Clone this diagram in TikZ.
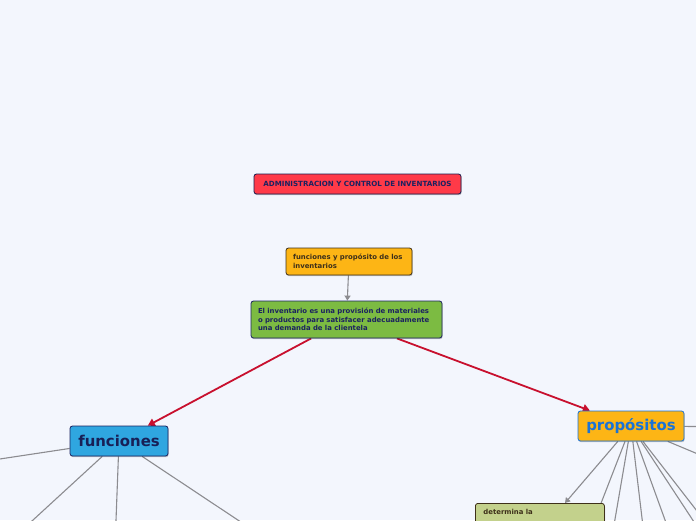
\documentclass[tikz,border=0pt]{standalone}
\usepackage{fontspec}
\setmainfont{DejaVu Sans}
\usetikzlibrary{arrows.meta,shadows,backgrounds}

\definecolor{fondo}{HTML}{F3F6FD}
\definecolor{rojotit}{HTML}{FF3A48}
\definecolor{marino}{HTML}{1B2260}
\definecolor{naranja}{HTML}{FDB515}
\definecolor{verde}{HTML}{7CBB42}
\definecolor{azul}{HTML}{2FA6E0}
\definecolor{azultxt}{HTML}{1A73D6}
\definecolor{oliva}{HTML}{C3D18C}
\definecolor{cafe}{HTML}{3E301A}
\definecolor{rojo}{HTML}{C8102E}
\definecolor{gris}{HTML}{8C8C90}

\newcommand{\chico}{\fontsize{6.9}{8.5}\selectfont\bfseries}
\newcommand{\grande}{\fontsize{14.9}{17}\selectfont\bfseries}

\tikzset{
  caja/.style={draw, rounded corners=2.5pt, line width=0.8pt,
    drop shadow={shadow xshift=0.6pt, shadow yshift=-1.2pt, fill=black, opacity=0.22}},
  enlace/.style={draw=gris, line width=1.1pt},
  flecha/.style={draw=rojo, line width=1.8pt, -{Triangle[length=7pt,width=8pt]}},
}

\begin{document}
\begin{tikzpicture}[x=1pt, y=-1pt]
  \useasboundingbox (0,0) rectangle (696,520);
  \clip (0,0) rectangle (696,520);

  \node[caja, fill=rojotit, draw=marino!80!black, text=marino, minimum width=207, minimum height=20,
        font=\fontsize{7.1}{8}\selectfont\bfseries] (titulo) at (357.5,184)
        {ADMINISTRACION Y CONTROL DE INVENTARIOS};
  \node[caja, fill=naranja, draw=cafe, text=cafe, minimum height=27, inner xsep=7pt,
        text width=112pt, align=left, font=\chico] (tema) at (349,261.5)
        {funciones y propósito de los\\inventarios};
  \node[caja, fill=verde, draw=marino, text=marino, minimum height=37, inner xsep=7pt,
        text width=177pt, align=left, font=\chico] (inventario) at (346.5,319.5)
        {El inventario es una provisión de materiales\\o productos para satisfacer adecuadamente\\una demanda de la clientela};
  \node[caja, fill=azul, draw=marino, text=marino!90!black, minimum width=98, minimum height=30,
        font=\grande] (funciones) at (119,441) {funciones};
  \node[caja, fill=naranja, draw=azultxt, text=azultxt, minimum width=106, minimum height=30,
        font=\grande] (propositos) at (631,426) {propósitos};
  \node[caja, fill=oliva, draw=cafe, text=cafe, anchor=north west, inner xsep=8pt, inner ysep=6pt,
        text width=113pt, text height=5pt, text depth=41pt, align=left, font=\chico] (determina)
        at (475,503) {determina la};

  \begin{scope}[on background layer]
    \fill[fondo] (0,0) rectangle (696,520);
    \draw[enlace, -{Triangle[length=5pt,width=6pt]}] (tema) -- (inventario);
    \draw[flecha] (inventario) -- (funciones);
    \draw[flecha] (inventario) -- (propositos);
    \foreach \x/\y [count=\i] in {-40/465, -10.5/560, 114.5/560, 298/560} {
      \coordinate (f\i) at (\x,\y);
      \draw[enlace] (funciones) -- (f\i);
    }
    \draw[enlace, -{Triangle[length=5pt,width=6pt]}] (propositos) -- (determina);
    \foreach \x/\y [count=\i] in {579/560, 608/560, 647/560, 679.5/560, 719/560, 735/560, 760/480, 760/427} {
      \coordinate (p\i) at (\x,\y);
      \draw[enlace] (propositos) -- (p\i);
    }
  \end{scope}
\end{tikzpicture}
\end{document}
